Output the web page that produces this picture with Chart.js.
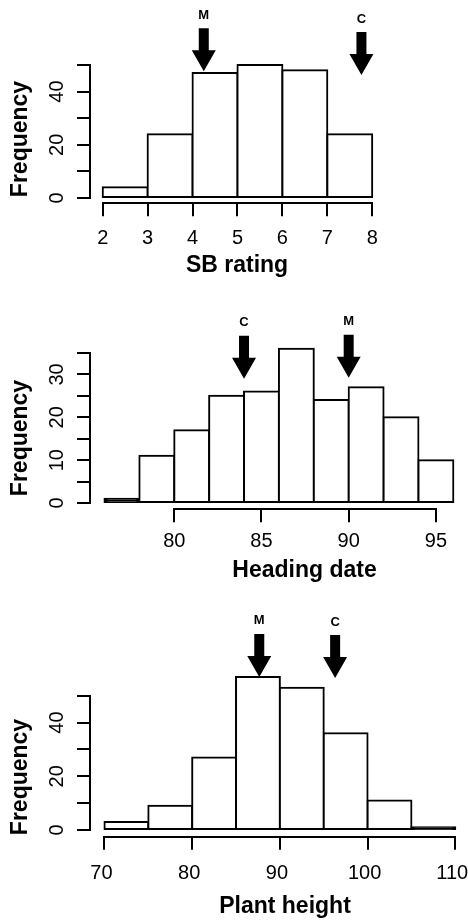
<!DOCTYPE html>
<html>
<head>
<meta charset="utf-8">
<script src="https://cdn.jsdelivr.net/npm/chart.js@4.4.0/dist/chart.umd.min.js"></script>
<style>
  html, body { margin: 0; padding: 0; background: #fff; }
  #wrap { position: relative; width: 468px; height: 922px; }
  canvas { position: absolute; left: 0; display: block; }
</style>
</head>
<body>
<div id="wrap">
  <canvas id="graph1" width="468" height="290" style="top:0px"></canvas>
  <canvas id="graph2" width="468" height="315" style="top:290px"></canvas>
  <canvas id="graph3" width="468" height="317" style="top:605px"></canvas>
</div>
<script>
// SB rating
var sbBinStarts = [2, 3, 4, 5, 6, 7];
var sbCounts = [4, 24, 47, 50, 48, 24];
var sbTicks = [2, 3, 4, 5, 6, 7, 8];
var sbFreqTicks = [0, 10, 20, 30, 40, 50];
var sbFreqLabels = [0, 20, 40];
var sbMarkers = ['M', 'C'];
var sbMarkerX = [4.25, 7.76];
var sbMarkerTip = [47.7, 46.2];

// Heading date
var hdBinStarts = [76, 78, 80, 82, 84, 86, 88, 90, 92, 94];
var hdCounts = [1, 11, 17, 25, 26, 36, 24, 27, 20, 10];
var hdTicks = [80, 85, 90, 95];
var hdFreqTicks = [0, 5, 10, 15, 20, 25, 30, 35];
var hdFreqLabels = [0, 10, 20, 30];
var hdMarkers = ['C', 'M'];
var hdMarkerX = [84, 90];
var hdMarkerTip = [29, 29.2];

// Plant height
var phBinStarts = [70, 75, 80, 85, 90, 95, 100, 105];
var phCounts = [3, 9, 27, 57, 53, 36, 11, 1];
var phTicks = [70, 80, 90, 100, 110];
var phFreqTicks = [0, 10, 20, 30, 40, 50];
var phFreqLabels = [0, 20, 40];
var phMarkers = ['M', 'C'];
var phMarkerX = [87.65, 96.3];
var phMarkerTip = [57, 56.6];

Chart.defaults.font.family = '"Liberation Sans", Arial, Helvetica, sans-serif';
Chart.defaults.color = '#000';

function histData(starts, counts) {
    var w = starts[1] - starts[0];
    return starts.map(function (s, i) { return { x: s + w / 2, y: counts[i] }; });
}

// R-style axes: lines only between first and last tick, arrows, axis titles
var rAxisPlugin = {
    id: 'rAxis',
    afterDraw: function (chart) {
        var o = chart.options.plugins.rAxis;
        var ctx = chart.ctx, xs = chart.scales.x, ys = chart.scales.y, area = chart.chartArea;
        ctx.save();
        ctx.strokeStyle = '#000';
        ctx.lineWidth = 2;

        var by = Math.round(area.bottom);
        ctx.beginPath();
        ctx.moveTo(Math.round(xs.getPixelForValue(o.xTicks[0])) - 1, by);
        ctx.lineTo(Math.round(xs.getPixelForValue(o.xTicks[o.xTicks.length - 1])) + 1, by);
        ctx.stroke();

        var lx = Math.round(area.left);
        ctx.beginPath();
        ctx.moveTo(lx, Math.round(ys.getPixelForValue(o.yTicks[0])) + 1);
        ctx.lineTo(lx, Math.round(ys.getPixelForValue(o.yTicks[o.yTicks.length - 1])) - 1);
        ctx.stroke();

        ctx.fillStyle = '#000';
        ctx.textAlign = 'center';
        ctx.textBaseline = 'middle';
        o.markers.forEach(function (m, i) {
            var px = xs.getPixelForValue(o.markerX[i]);
            var tip = ys.getPixelForValue(o.markerTip[i]);
            var top = tip - 43, head = tip - 21;
            ctx.beginPath();
            ctx.moveTo(px - 5, top);
            ctx.lineTo(px + 5, top);
            ctx.lineTo(px + 5, head);
            ctx.lineTo(px + 12, head);
            ctx.lineTo(px, tip);
            ctx.lineTo(px - 12, head);
            ctx.lineTo(px - 5, head);
            ctx.closePath();
            ctx.fill();
            ctx.font = 'bold 13px "Liberation Sans", Arial, sans-serif';
            ctx.fillText(m, px, top - 13);
        });

        ctx.font = 'bold 23px "Liberation Sans", Arial, sans-serif';
        ctx.fillText(o.xTitle, o.xTitlePos[0], o.xTitlePos[1]);
        ctx.save();
        ctx.translate(o.yTitlePos[0], o.yTitlePos[1]);
        ctx.rotate(-Math.PI / 2);
        ctx.fillText('Frequency', 0, 0);
        ctx.restore();
        ctx.restore();
    }
};

function makeHist(id, p) {
    var canvas = document.getElementById(id);
    var W = canvas.width, H = canvas.height, XH = 60;
    return new Chart(canvas.getContext('2d'), {
        type: 'bar',
        data: {
            datasets: [{
                data: histData(p.starts, p.counts),
                // very short bins close up into a solid black bar, as in the R output
                backgroundColor: function (c) {
                    var ys = c.chart.scales.y;
                    if (!ys || !c.raw) return '#fff';
                    var h = ys.getPixelForValue(0) - ys.getPixelForValue(c.raw.y);
                    return h < 5 ? '#000' : '#fff';
                },
                borderColor: '#000',
                borderWidth: 2,
                borderSkipped: false,
                barPercentage: 1,
                categoryPercentage: 1,
                // push the border outwards by 1px so it sits centred on the bin edge, like R
                inflateAmount: 1
            }]
        },
        options: {
            responsive: false,
            animation: false,
            events: [],
            layout: {
                padding: { left: 0, top: p.area.top, right: W - p.area.right, bottom: H - p.area.bottom - XH }
            },
            plugins: {
                legend: { display: false },
                tooltip: { enabled: false },
                rAxis: {
                    xTicks: p.xTicks, yTicks: p.yTicks,
                    markers: p.markers, markerX: p.markerX, markerTip: p.markerTip,
                    xTitle: p.xTitle, xTitlePos: p.xTitlePos, yTitlePos: p.yTitlePos
                }
            },
            scales: {
                x: {
                    type: 'linear',
                    min: p.xMin,
                    max: p.xMax,
                    offset: false,
                    afterBuildTicks: function (s) { s.ticks = p.xTicks.map(function (v) { return { value: v }; }); },
                    afterFit: function (s) { s.height = XH; s.paddingLeft = 0; s.paddingRight = 0; },
                    border: { display: false },
                    grid: { offset: false, drawOnChartArea: false, drawTicks: true, tickLength: 13, lineWidth: 2, color: '#000' },
                    ticks: {
                        autoSkip: false, minRotation: 0, maxRotation: 0,
                        padding: p.xPad, labelOffset: p.xLabelOffset,
                        font: { size: 20 }, color: '#000',
                        callback: function (v) { return String(v); }
                    }
                },
                y: {
                    type: 'linear',
                    min: p.yMin,
                    max: p.yMax,
                    afterBuildTicks: function (s) { s.ticks = p.yTicks.map(function (v) { return { value: v }; }); },
                    afterFit: function (s) { s.width = p.area.left; s.paddingTop = 0; s.paddingBottom = 0; },
                    border: { display: false },
                    grid: { drawOnChartArea: false, drawTicks: true, tickLength: 13, lineWidth: 2, color: '#000' },
                    ticks: {
                        autoSkip: false, minRotation: 90, maxRotation: 90,
                        crossAlign: 'center', padding: 8.5,
                        font: { size: 20 }, color: '#000',
                        callback: function (v) { return p.yLabels.indexOf(v) >= 0 ? String(v) : ''; }
                    }
                }
            }
        },
        plugins: [rAxisPlugin]
    });
}

window.onload = function () {
    window.sbChart = makeHist('graph1', {
        starts: sbBinStarts, counts: sbCounts,
        xTicks: sbTicks, yTicks: sbFreqTicks, yLabels: sbFreqLabels,
        markers: sbMarkers, markerX: sbMarkerX, markerTip: sbMarkerTip,
        xMin: 1.717, xMax: 8.24, yMin: -2, yMax: 52,
        area: { left: 90, right: 383, top: 59.7, bottom: 203.3 },
        xPad: 10, xLabelOffset: 0,
        xTitle: 'SB rating', xTitlePos: [237, 266], yTitlePos: [21, 139]
    });

    window.hdChart = makeHist('graph2', {
        starts: hdBinStarts, counts: hdCounts,
        xTicks: hdTicks, yTicks: hdFreqTicks, yLabels: hdFreqLabels,
        markers: hdMarkers, markerX: hdMarkerX, markerTip: hdMarkerTip,
        xMin: 75.17, xMax: 96.84, yMin: -1.44, yMax: 37.44,
        area: { left: 90, right: 468, top: 52.5, bottom: 219.2 },
        xPad: 7.5, xLabelOffset: 0,
        xTitle: 'Heading date', xTitlePos: [304.5, 281], yTitlePos: [21, 148]
    });

    window.phChart = makeHist('graph3', {
        starts: phBinStarts, counts: phCounts,
        xTicks: phTicks, yTicks: phFreqTicks, yLabels: phFreqLabels,
        markers: phMarkers, markerX: phMarkerX, markerTip: phMarkerTip,
        xMin: 68.35, xMax: 111.45, yMin: -2.5, yMax: 60.32,
        area: { left: 90, right: 468, top: 63, bottom: 231.7 },
        xPad: 12, xLabelOffset: -3,
        xTitle: 'Plant height', xTitlePos: [285, 302], yTitlePos: [21, 172]
    });
};
</script>
</body>
</html>
